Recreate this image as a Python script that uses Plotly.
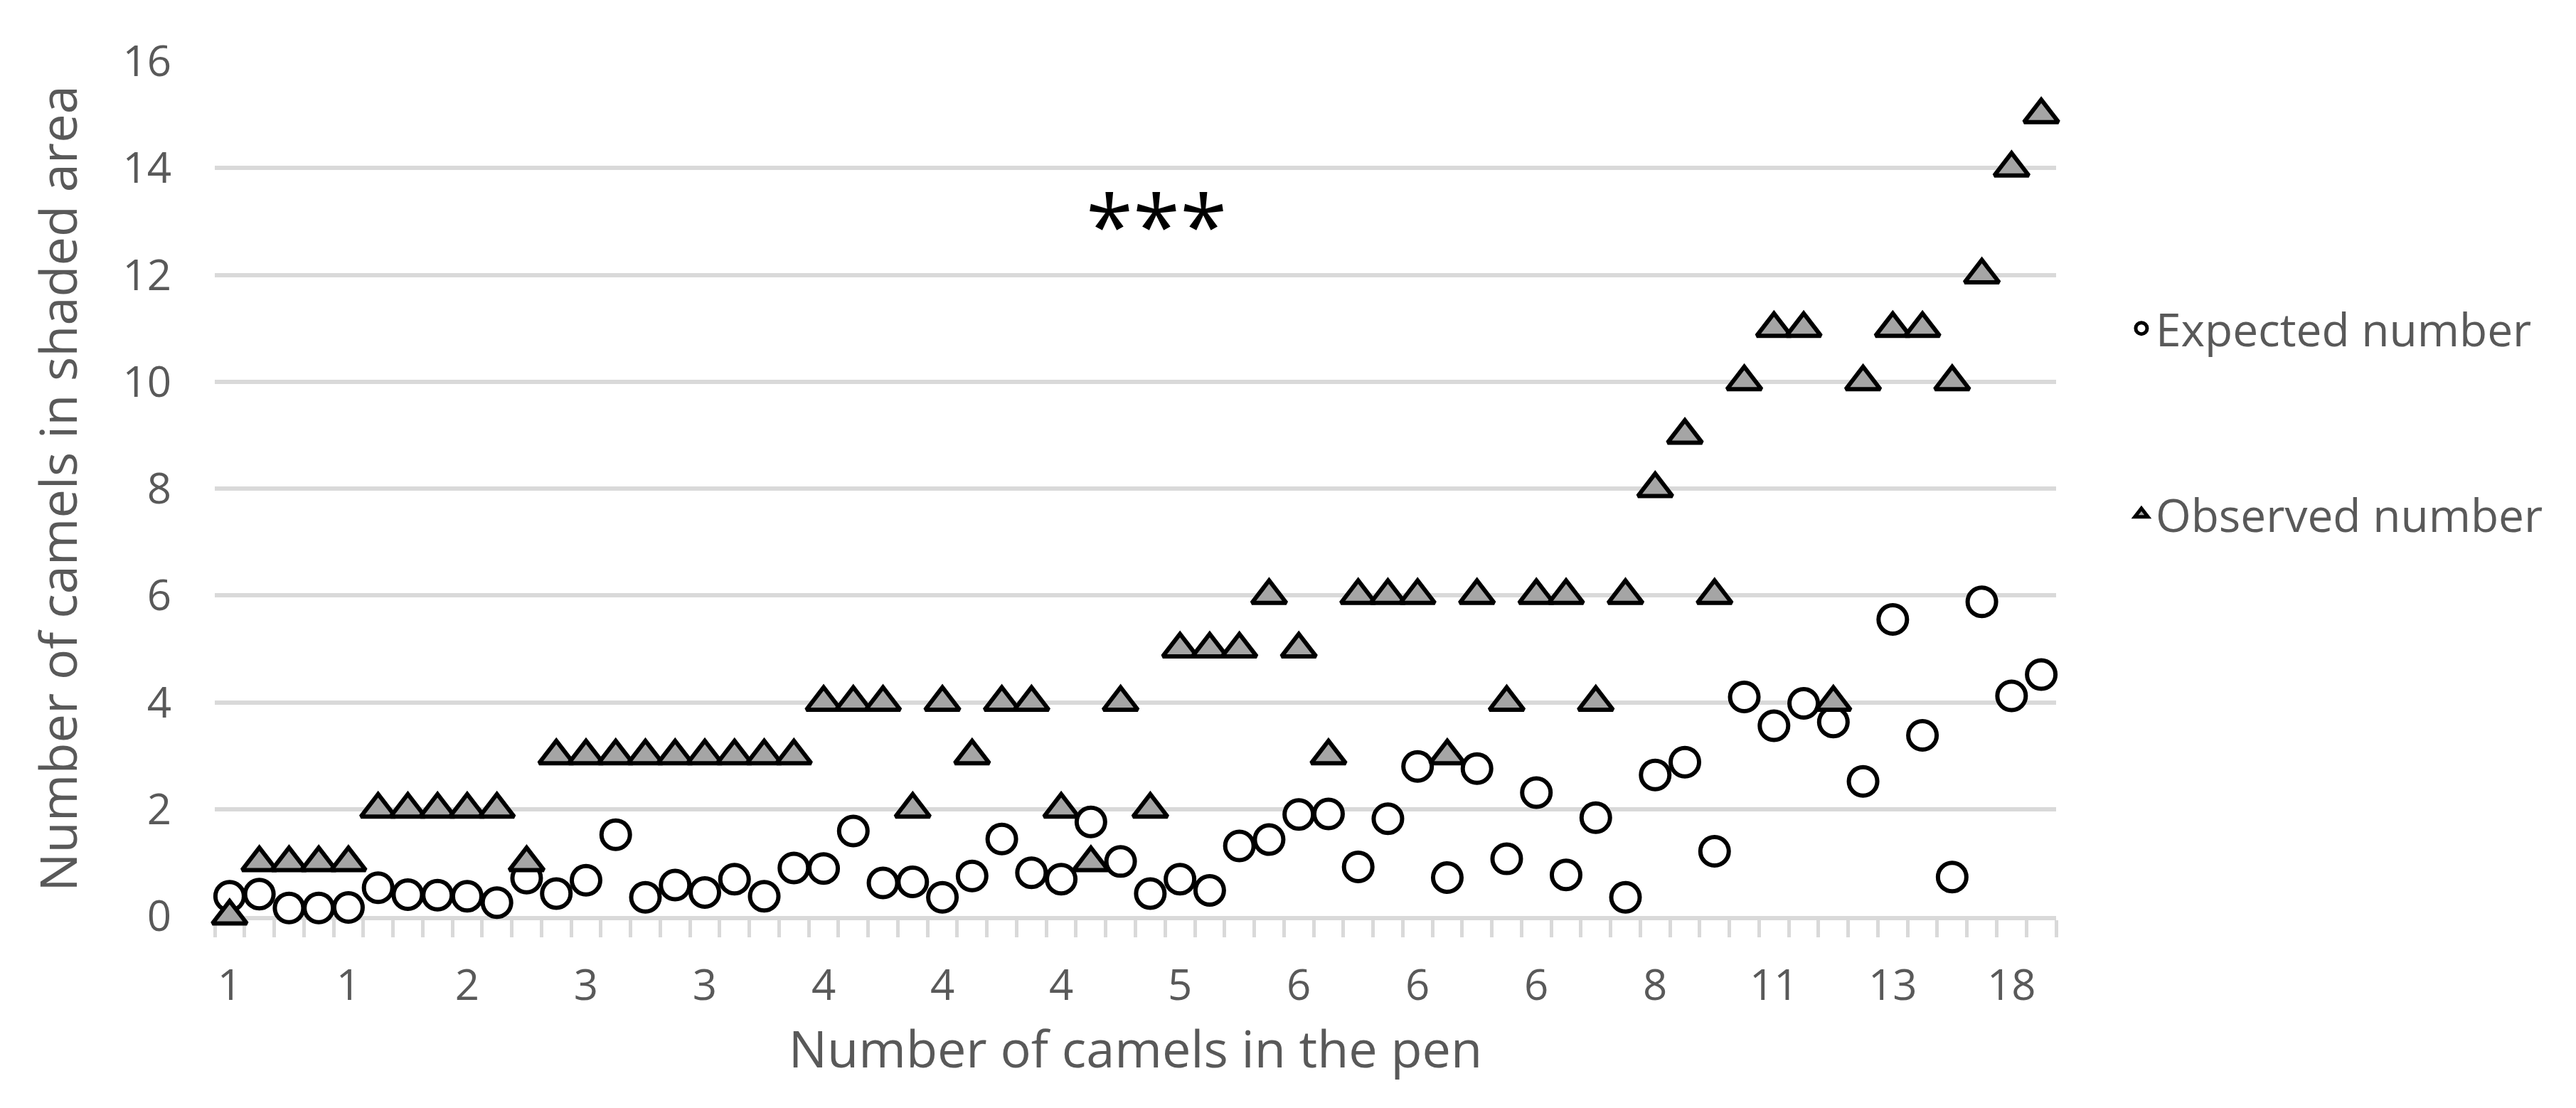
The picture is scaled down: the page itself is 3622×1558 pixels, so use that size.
import plotly.graph_objects as go

# pens sorted by size; only every 4th pen size is printed on the axis
pen_labels = ["1", "1", "2", "3", "3", "4", "4", "4", "5", "6", "6", "6", "8", "11", "13", "18"]

expected = [0.37, 0.41, 0.15, 0.15, 0.16, 0.53, 0.40, 0.39, 0.37, 0.25,
            0.71, 0.42, 0.67, 1.52, 0.35, 0.58, 0.44, 0.69, 0.37, 0.90,
            0.89, 1.59, 0.62, 0.64, 0.35, 0.75, 1.44, 0.81, 0.69, 1.76,
            1.02, 0.42, 0.69, 0.48, 1.31, 1.43, 1.90, 1.91, 0.92, 1.82,
            2.80, 0.72, 2.76, 1.07, 2.31, 0.77, 1.84, 0.35, 2.64, 2.88,
            1.21, 4.10, 3.56, 3.98, 3.63, 2.52, 5.55, 3.38, 0.73, 5.88,
            4.12, 4.52]

observed = [0, 1, 1, 1, 1, 2, 2, 2, 2, 2,
            1, 3, 3, 3, 3, 3, 3, 3, 3, 3,
            4, 4, 4, 2, 4, 3, 4, 4, 2, 1,
            4, 2, 5, 5, 5, 6, 5, 3, 6, 6,
            6, 3, 6, 4, 6, 6, 4, 6, 8, 9,
            6, 10, 11, 11, 4, 10, 11, 11, 10, 12,
            14, 15]

pens = list(range(len(expected)))
label_pos = pens[::4]

GREY = "#595959"
GRID = "#d9d9d9"
FONT = "Open Sans"

fig = go.Figure()
fig.add_trace(go.Scatter(
    x=pens, y=expected, mode="markers", name="Expected number",
    marker=dict(symbol="circle", size=40, color="white",
                line=dict(color="black", width=6)),
    legendgroup="exp", cliponaxis=False,
))
fig.add_trace(go.Scatter(
    x=pens, y=observed, mode="markers", name="Observed number",
    marker=dict(symbol="triangle-up", size=42, color="#a5a5a5",
                line=dict(color="black", width=6)),
    legendgroup="obs", cliponaxis=False,
))

fig.add_annotation(x=31.2, y=12.95, xref="x", yref="y", text="***",
                   showarrow=False, font=dict(family=FONT, size=120, color="black"),
                   yanchor="middle")

fig.update_layout(
    width=3622, height=1558,
    margin=dict(l=294, r=739, t=78, b=278),
    paper_bgcolor="white", plot_bgcolor="white",
    font=dict(family=FONT, color=GREY),
    showlegend=True,
    legend=dict(x=1.0386, y=0.7275, xanchor="left", yanchor="top",
                tracegroupgap=175, traceorder="grouped",
                font=dict(size=64, color=GREY), bgcolor="rgba(0,0,0,0)"),
)

fig.update_xaxes(
    range=[-0.5, len(pens) - 0.5],
    tickmode="array", tickvals=label_pos, ticktext=pen_labels,
    ticks="", showgrid=False, zeroline=False,
    showline=True, linecolor=GRID, linewidth=6, layer="below traces",
    minor=dict(tick0=-0.5, dtick=1, ticks="outside", ticklen=24,
               tickcolor=GRID, tickwidth=5, showgrid=False),
    tickfont=dict(size=60, color=GREY),
    ticklabelstandoff=40,
    title=dict(text="Number of camels in the pen", font=dict(size=72, color=GREY), standoff=30),
)
fig.update_yaxes(
    range=[0, 16], tickmode="array", tickvals=list(range(0, 17, 2)),
    showgrid=True, gridcolor=GRID, gridwidth=6, zeroline=False,
    showline=False, ticks="", layer="below traces",
    tickfont=dict(size=60, color=GREY),
    ticklabelstandoff=60,
    title=dict(text="Number of camels in shaded area", font=dict(size=72, color=GREY), standoff=40),
)

fig.write_html("out.html")
